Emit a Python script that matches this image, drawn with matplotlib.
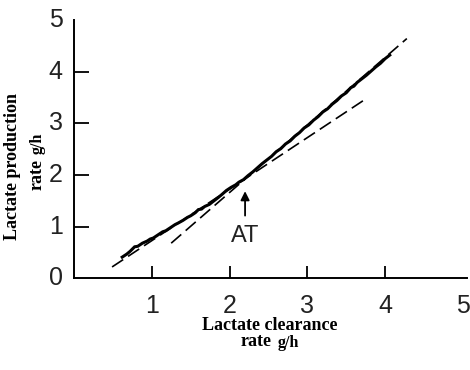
import matplotlib
matplotlib.use("Agg")
import matplotlib.pyplot as plt

curve_x = [0.62, 0.68, 0.72, 0.76, 0.78, 0.82, 0.88, 0.94, 0.98, 1.02, 1.08,
           1.14, 1.18, 1.24, 1.30, 1.34, 1.40, 1.46, 1.50, 1.56, 1.60, 1.64,
           1.68, 1.74, 1.80, 1.86, 1.90, 1.96, 2.02, 2.08, 2.12, 2.18, 2.24,
           2.30, 2.36, 2.42, 2.48, 2.54, 2.60, 2.66, 2.72, 2.78, 2.84, 2.90,
           2.96, 3.02, 3.08, 3.14, 3.20, 3.26, 3.32, 3.38, 3.44, 3.50, 3.56,
           3.60, 3.64, 3.70, 3.76, 3.82, 3.88, 3.94, 4.00, 4.06]
curve_y = [0.41, 0.47, 0.52, 0.58, 0.61, 0.62, 0.68, 0.72, 0.76, 0.78, 0.84,
           0.90, 0.92, 0.98, 1.04, 1.07, 1.12, 1.18, 1.21, 1.27, 1.33, 1.34,
           1.39, 1.43, 1.50, 1.57, 1.62, 1.70, 1.76, 1.81, 1.86, 1.91, 1.99,
           2.06, 2.14, 2.22, 2.29, 2.36, 2.45, 2.51, 2.60, 2.66, 2.75, 2.82,
           2.91, 2.97, 3.06, 3.13, 3.22, 3.28, 3.37, 3.44, 3.53, 3.59, 3.69,
           3.72, 3.79, 3.86, 3.93, 4.01, 4.09, 4.16, 4.25, 4.32]

# fitted lines below and above the threshold
low_fit_x = [0.49, 3.76]
low_fit_y = [0.22, 3.48]
high_fit_x = [1.25, 4.28]
high_fit_y = [0.68, 4.64]

# threshold marker
at_x = 2.2
at_tip_y = 1.74
at_tail_y = 1.16
at_label_y = 0.81

x_ticks = [1, 2, 3, 4]
y_ticks = [1, 2, 3, 4]
x_labels = ["1", "2", "3", "4", "5"]
y_labels = ["0", "1", "2", "3", "4", "5"]

fig = plt.figure(figsize=(4.7, 3.7), dpi=100)
ax = fig.add_axes([0.1574, 0.2478, 0.993 - 0.1574, 0.946 - 0.2478])

ax.plot(low_fit_x, low_fit_y, color="k", lw=1.2, dashes=(8, 3.5))
ax.plot(high_fit_x, high_fit_y, color="k", lw=1.2, dashes=(8, 3.5))
ax.plot(curve_x, curve_y, color="k", lw=2.2, solid_joinstyle="miter")

ax.annotate("", xy=(at_x, at_tip_y), xytext=(at_x, at_tail_y),
            arrowprops=dict(arrowstyle="-|>", color="k", lw=1.3, mutation_scale=13))
ax.text(at_x, at_label_y, "AT", ha="center", va="center", fontsize=17,
        family="Liberation Sans", color="#222222")

ax.set_xlim(0, 5.05)
ax.set_ylim(0, 5)
for side in ("top", "right"):
    ax.spines[side].set_visible(False)
ax.spines["left"].set_linewidth(1.4)
ax.spines["bottom"].set_linewidth(1.4)

# tick marks only at 1-4, drawn inward; labels 0-5 placed separately
ax.set_xticks(x_ticks)
ax.set_yticks(y_ticks)
ax.set_xticklabels([])
ax.set_yticklabels([])
ax.tick_params(axis="x", direction="in", length=9, width=1.4, color="#111111")
ax.tick_params(axis="y", direction="in", length=10.5, width=1.4, color="#111111")

lab_kw = dict(family="Liberation Sans", fontsize=18, color="#222222")
for i, lab in enumerate(x_labels):
    ax.annotate(lab, xy=(i + 1, 0), xycoords=("data", "axes fraction"),
                xytext=(0, -11), textcoords="offset points",
                ha="center", va="top", **lab_kw)
for i, lab in enumerate(y_labels):
    ax.annotate(lab, xy=(0, i), xycoords=("axes fraction", "data"),
                xytext=(-8, 0), textcoords="offset points",
                ha="right", va="center", **lab_kw)

serif = "Liberation Serif"
fig.text(270 / 470, 1 - 326 / 370, "Lactate clearance", ha="center", va="center",
         fontsize=13, weight="bold", family=serif)
fig.text(272 / 470, 1 - 342 / 370, "rate", ha="right", va="center",
         fontsize=13, weight="bold", family=serif)
fig.text(278 / 470, 1 - 343 / 370, "g/h", ha="left", va="center",
         fontsize=11.5, weight="bold", family=serif)

fig.text(13 / 470, 1 - 166 / 370, "Lactate production", ha="center", va="center",
         rotation=90, fontsize=13, weight="bold", family=serif)
fig.text(37 / 470, 1 - 159 / 370, "rate", ha="center", va="top",
         rotation=90, fontsize=13, weight="bold", family=serif)
fig.text(38 / 470, 1 - 154 / 370, "g/h", ha="center", va="bottom",
         rotation=90, fontsize=11.5, weight="bold", family=serif)

fig.savefig("out.png", dpi=100)
